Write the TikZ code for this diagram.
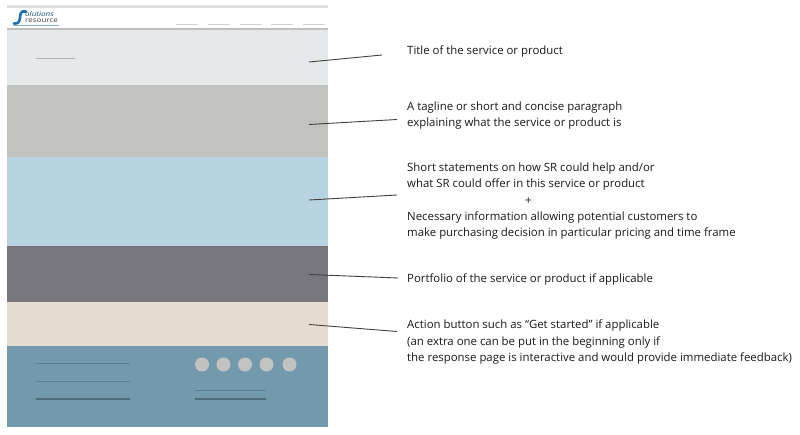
\documentclass[tikz,border=0pt]{standalone}
\usepackage{fontspec}
\setmainfont{Open Sans}
\newfontfamily\logofont[FakeStretch=1.22]{Open Sans}
\definecolor{bandA}{HTML}{E6E9E9}
\definecolor{bandB}{HTML}{C2C2C0}
\definecolor{bandC}{HTML}{B7D4E0}
\definecolor{bandD}{HTML}{78777E}
\definecolor{bandE}{HTML}{E4DCD0}
\definecolor{bandF}{HTML}{739AAC}
\definecolor{ruleF}{HTML}{5B7F90}
\definecolor{logoB}{HTML}{1F70B0}
\tikzset{
  x=1pt,y=-1pt,
  band/.style={draw=none,inner sep=0pt,minimum width=321pt,anchor=north west},
  note/.style={anchor=north west,inner sep=0pt,align=left,font=\fontsize{11.4}{16.1}\selectfont,text=black!90},
  pointer/.style={draw=black!75,line width=.9pt},
  dot/.style={circle,fill=bandB,inner sep=0pt,minimum size=14pt},
  footrule/.style={draw=ruleF,line width=.8pt},
  footruleb/.style={draw=ruleF!85!black,line width=1.2pt}
}
\begin{document}
\begin{tikzpicture}
\useasboundingbox (0,0) rectangle (800,435);
\fill[white] (0,0) rectangle (800,435);
\fill[black!12] (7,5) rectangle (328,8);
\fill[black!25] (7,28) rectangle (328,30);
\node[band,fill=bandA,minimum height=55pt] (b1) at (7,30) {};
\node[band,fill=bandB,minimum height=72pt] (b2) at (7,85) {};
\node[band,fill=bandC,minimum height=89pt] (b3) at (7,157) {};
\node[band,fill=bandD,minimum height=56pt] (b4) at (7,246) {};
\node[band,fill=bandE,minimum height=44pt] (b5) at (7,302) {};
\node[band,fill=bandF,minimum height=81pt] (b6) at (7,346) {};
% logo
\draw[logoB,line width=2.6pt,line cap=round] (26,11.5) .. controls (20,10.5) and (20.5,14) .. (20,18) .. controls (19.5,22) and (18,24) .. (14,23.5);
\node[anchor=west,inner sep=0pt,font=\fontsize{6.6}{7}\logofont\itshape,text=logoB!70!black] (lg1) at (25,14.5) {olutions};
\node[anchor=west,inner sep=0pt,font=\fontsize{6.6}{7}\logofont,text=black!75] (lg2) at (25,21) {resource};
\fill[logoB!55] (13,25) rectangle (59,26);
% nav rules
\foreach \a in {176,208,240,271,303}{\draw[black!18,line width=.8pt] (\a,24.5) -- +(22,0);}
% title rule
\draw[black!30,line width=.9pt] (36,58.5) -- (75,58.5);
% footer
\draw[footrule] (36,363) -- (130,363);
\draw[footrule] (36,381) -- (130,381);
\draw[footruleb] (36,399) -- (130,399);
\draw[footrule] (195,390.5) -- (266,390.5);
\draw[footruleb] (195,399) -- (266,399);
\node[dot] (d1) at (202,364.5) {};
\node[dot] (d2) at (223.5,364.5) {};
\node[dot] (d3) at (245,364.5) {};
\node[dot] (d4) at (266.5,364.5) {};
\node[dot] (d5) at (289.5,364.5) {};
% notes
\node[note] (n1) at (407,46) {Title of the service or product};
\node[note] (n2) at (407,102) {A tagline or short and concise paragraph\\explaining what the service or product is};
\node[note] (n3) at (407,163) {Short statements on how SR could help and/or\\what SR could offer in this service or product\\\hspace*{118pt}+\\Necessary information allowing potential customers to\\make purchasing decision in particular pricing and time frame};
\node[note] (n4) at (407,274) {Portfolio of the service or product if applicable};
\node[note] (n5) at (407,320) {Action button such as “Get started” if applicable\\(an extra one can be put in the beginning only if\\the response page is interactive and would provide immediate feedback)};
% connectors
\coordinate (s1) at (309,62); \coordinate (e1) at (382,55);
\coordinate (s2) at (309,124.5); \coordinate (e2) at (397,119.5);
\coordinate (s3) at (309,200); \coordinate (e3) at (397,195);
\coordinate (s4) at (309,274.5); \coordinate (e4) at (398,278);
\coordinate (s5) at (309,324.5); \coordinate (e5) at (397,331.5);
\foreach \i in {1,...,5}{\draw[pointer] (s\i) -- (e\i);}
\end{tikzpicture}
\end{document}
